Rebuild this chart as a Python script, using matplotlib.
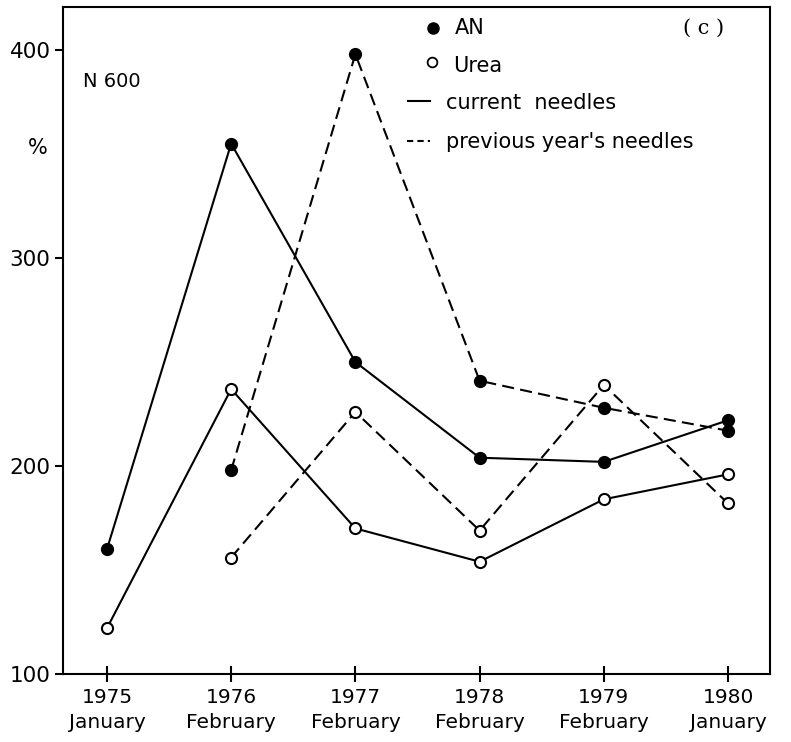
import matplotlib
matplotlib.use("Agg")
import matplotlib.pyplot as plt
from matplotlib.lines import Line2D

plt.rcParams['font.family'] = ['DejaVu Sans']

years = [1975, 1976, 1977, 1978, 1979, 1980]
months = ['January', 'February', 'February', 'February', 'February', 'January']

# AN (filled circles)
an_current = [160, 355, 250, 204, 202, 222]
an_prev_years = [1976, 1977, 1978, 1979, 1980]
an_prev = [198, 398, 241, 228, 217]

# Urea (open circles)
urea_current = [122, 237, 170, 154, 184, 196]
urea_prev_years = [1976, 1977, 1978, 1979, 1980]
urea_prev = [156, 226, 169, 239, 182]

DASH = (5.8, 3.0)
LW = 1.5
MS = 8


def draw(ax, x, y, filled, dashed):
    kw = dict(color='black', lw=LW, marker='o', ms=MS, mec='black',
              mew=1.5, mfc='black' if filled else 'white')
    line, = ax.plot(x, y, **kw)
    if dashed:
        line.set_dashes(DASH)
    return line


fig = plt.figure(figsize=(7.91, 7.42), dpi=100)
ax = fig.add_axes([0.0796, 0.0916, 0.8939, 0.899])

draw(ax, years, an_current, True, False)
draw(ax, an_prev_years, an_prev, True, True)
draw(ax, years, urea_current, False, False)
draw(ax, urea_prev_years, urea_prev, False, True)

ax.set_xlim(1974.646, 1980.338)
ax.set_ylim(100, 420.7)

ax.set_xticks(years)
ax.set_xticklabels([f'{y}\n{m}' for y, m in zip(years, months)],
                   fontsize=14.5, linespacing=1.4)
ax.set_yticks([100, 200, 300, 400])
ax.tick_params(axis='x', direction='inout', length=12, width=1.5, pad=4)
ax.tick_params(axis='y', direction='out', length=6, width=1.5, pad=3,
               labelsize=15.5)
for s in ax.spines.values():
    s.set_linewidth(1.5)

ax.text(-0.035, 0.789, '%', transform=ax.transAxes, fontsize=15,
        ha='center', va='center')
ax.text(0.028, 0.888, 'N 600', transform=ax.transAxes, fontsize=14,
        ha='left', va='center')

# hand-made legend in the top right corner
tr = ax.transAxes


def fx(px):
    return (px - 63) / 707


def fy(py):
    return (674 - py) / 667


ax.add_line(Line2D([fx(433)], [fy(28)], transform=tr, marker='o', ms=MS,
                   mfc='black', mec='black', color='black'))
ax.text(fx(455), fy(28), 'AN', transform=tr, fontsize=15, va='center')
ax.add_line(Line2D([fx(432)], [fy(62)], transform=tr, marker='o', ms=7,
                   mfc='white', mec='black', mew=1.3, color='black'))
ax.text(fx(453), fy(66), 'Urea', transform=tr, fontsize=15, va='center')
ax.add_line(Line2D([fx(408), fx(430)], [fy(101), fy(101)], transform=tr,
                   color='black', lw=LW))
ax.text(fx(446), fy(103), 'current  needles', transform=tr, fontsize=15,
        va='center')
ln = Line2D([fx(407), fx(430)], [fy(141), fy(141)], transform=tr,
            color='black', lw=LW)
ln.set_dashes((3, 2))
ax.add_line(ln)
ax.text(fx(446), fy(142), "previous year's needles", transform=tr,
        fontsize=15, va='center')
ax.text(fx(704), fy(28), '( c )', transform=tr, fontsize=15, va='center',
        ha='center', family='DejaVu Serif')

fig.savefig('out.png', dpi=100)
